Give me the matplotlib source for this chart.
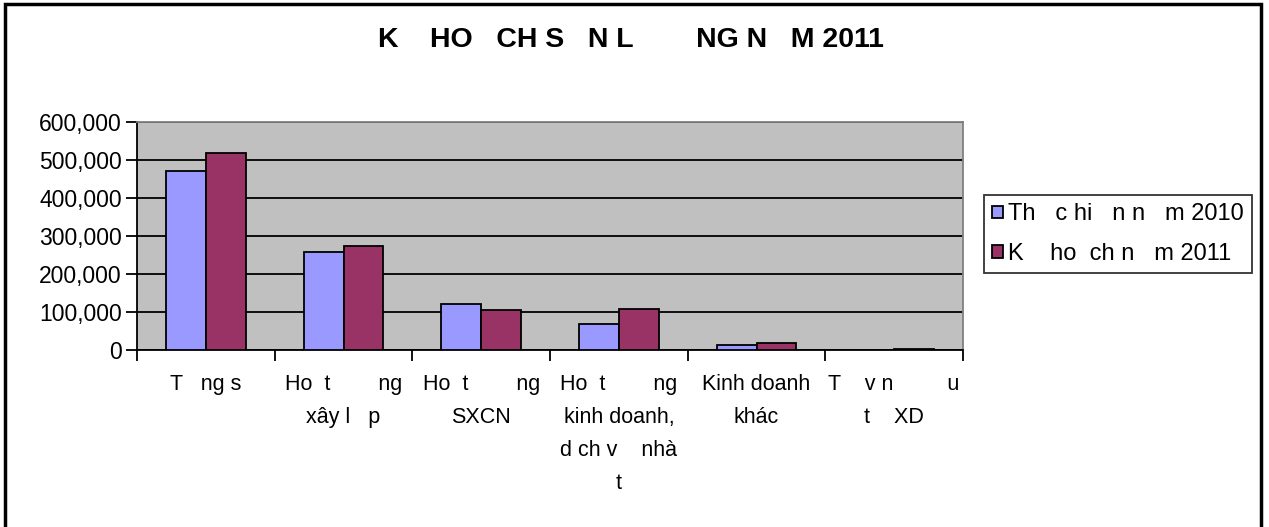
import matplotlib
matplotlib.use("Agg")
import matplotlib.pyplot as plt
import numpy as np
from matplotlib.patches import Rectangle
from matplotlib.ticker import FuncFormatter, MultipleLocator

# ── Dữ liệu ───────────────────────────────────────────────────────────────────
categories = [
    "T   ng s",
    "Ho  t        ng\nxây l   p",
    "Ho  t        ng\nSXCN",
    "Ho  t        ng\nkinh doanh,\nd ch v    nhà\nt",
    "Kinh doanh\nkhác",
    "T    v n         u\nt    XD",
]
thuc_hien_2010 = [472000, 257000, 120000, 69000, 12000, 0]
ke_hoach_2011 = [518000, 273000, 104500, 109000, 18000, 3000]
series_labels = ["Th   c hi   n n   m 2010", "K    ho  ch n   m 2011"]
title = "K    HO   CH S   N L        NG N   M 2011"

BLUE = "#9999FF"
RED = "#993366"

plt.rcParams["font.family"] = ["Liberation Sans", "DejaVu Sans"]

fig = plt.figure(figsize=(12.69, 5.27), dpi=100)
ax = fig.add_axes([137 / 1269, 177 / 527, 826 / 1269, 228 / 527])

x = np.arange(len(categories))
w = 0.29
ax.bar(x - w / 2, thuc_hien_2010, w, color=BLUE, edgecolor="black",
       linewidth=1.3, label=series_labels[0], zorder=3)
ax.bar(x + w / 2, ke_hoach_2011, w, color=RED, edgecolor="black",
       linewidth=1.3, label=series_labels[1], zorder=3)

ax.set_facecolor("#C0C0C0")
ax.set_xlim(-0.5, len(categories) - 0.5)
ax.set_ylim(0, 600000)
ax.yaxis.set_major_locator(MultipleLocator(100000))
ax.yaxis.set_major_formatter(FuncFormatter(lambda v, _: f"{v:,.0f}"))
ax.grid(axis="y", color="black", linewidth=1.3, zorder=1)
ax.set_axisbelow(True)

ax.set_xticks(x)
ax.set_xticklabels(categories, fontsize=15.5, linespacing=1.75, va="top")
ax.set_xticks(np.arange(len(categories) + 1) - 0.5, minor=True)
ax.tick_params(axis="x", which="major", length=0, pad=17)
ax.tick_params(axis="x", which="minor", length=8, width=1.3, color="black")
ax.tick_params(axis="y", length=8, width=1.3, labelsize=16.5, pad=3)

for side in ["left", "bottom"]:
    ax.spines[side].set_color("black")
    ax.spines[side].set_linewidth(1.3)
for side in ["top", "right"]:
    ax.spines[side].set_color("#808080")
    ax.spines[side].set_linewidth(1.3)

fig.text(0.497, 1 - 40 / 527, title, ha="center", va="center", fontsize=20.5,
         fontweight="bold")

leg = fig.legend(loc="upper left", bbox_to_anchor=(984 / 1269, 1 - 195 / 527),
                 frameon=True, fancybox=False, fontsize=17, handlelength=0.45,
                 handleheight=0.45, handletextpad=0.2, borderpad=0.35,
                 labelspacing=0.75, borderaxespad=0)
leg.get_frame().set_edgecolor("black")
leg.get_frame().set_linewidth(1.3)

# khung ngoài của biểu đồ
fig.patches.append(Rectangle((5 / 1269, -0.01), 1256 / 1269, 1.0 - 4 / 527 + 0.01,
                             transform=fig.transFigure, fill=False,
                             edgecolor="black", linewidth=2.5))

fig.savefig("out.png", dpi=100)
